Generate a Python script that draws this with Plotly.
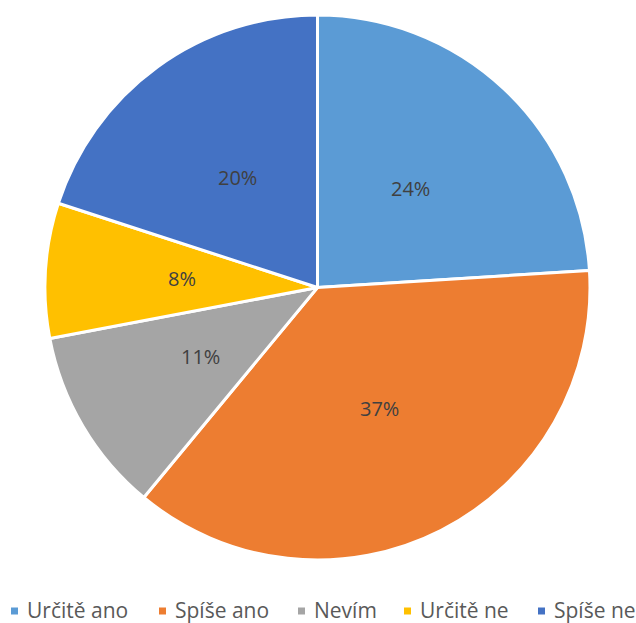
import math
import plotly.graph_objects as go

labels = ["Určitě ano", "Spíše ano", "Nevím", "Určitě ne", "Spíše ne"]
values = [24, 37, 11, 8, 20]
colors = ["#5B9BD5", "#ED7D31", "#A5A5A5", "#FFC000", "#4472C4"]

W, H = 636, 623
CX, CY, R = 317.5, 287.5, 272.5          # pie centre / radius in pixels (layout)
LABEL_FRAC = 0.5                          # data labels at half the radius
FONT = "Open Sans, Liberation Sans, sans-serif"

fig = go.Figure(go.Pie(
    labels=labels, values=values, sort=False, direction="clockwise", rotation=0,
    marker=dict(colors=colors, line=dict(color="white", width=3)),
    textinfo="none",
    domain=dict(x=[(CX - R) / W, (CX + R) / W], y=[1 - (CY + R) / H, 1 - (CY - R) / H]),
    hoverinfo="label+percent",
    showlegend=False,
))

# data labels, placed at the middle angle of each slice
total = sum(values)
cum = 0
annotations = []
for v in values:
    mid = (cum + v / 2) / total * 2 * math.pi
    cum += v
    px = CX + LABEL_FRAC * R * math.sin(mid)
    py = CY - LABEL_FRAC * R * math.cos(mid)
    annotations.append(dict(
        x=px / W, y=1 - py / H, xref="paper", yref="paper",
        text=f"{round(v / total * 100)}%", showarrow=False,
        xanchor="center", yanchor="middle",
        font=dict(family=FONT, size=20, color="#404040"),
    ))

# legend (Excel-style, tight spacing)
legend_sq_x = [11, 159, 298, 404, 538]
legend_y = 610
SQ = 7
shapes = []
for lab, col, sx in zip(labels, colors, legend_sq_x):
    shapes.append(dict(type="rect", xref="paper", yref="paper",
                       x0=sx / W, x1=(sx + SQ) / W,
                       y0=1 - (legend_y + 1 + SQ / 2) / H, y1=1 - (legend_y + 1 - SQ / 2) / H,
                       fillcolor=col, line=dict(width=0)))
    annotations.append(dict(
        x=(sx + 15) / W, y=1 - legend_y / H, xref="paper", yref="paper",
        text=lab, showarrow=False, xanchor="left", yanchor="middle", borderpad=0,
        font=dict(family=FONT, size=21, color="#595959"),
    ))

fig.update_layout(
    width=W, height=H, margin=dict(l=0, r=0, t=0, b=0),
    paper_bgcolor="white", plot_bgcolor="white",
    annotations=annotations, shapes=shapes,
)
fig.write_html("out.html", config={"displayModeBar": False},
               post_script="document.body.style.margin='0';document.body.style.overflow='hidden';")
